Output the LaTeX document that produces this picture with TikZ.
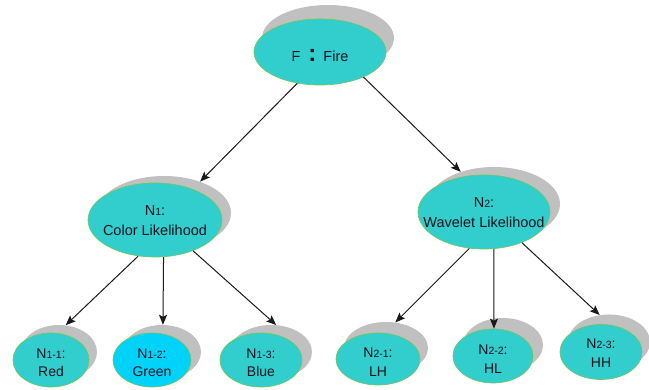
\documentclass[tikz,border=0pt]{standalone}
\usepackage{fontspec}
\setmainfont{Liberation Sans}
\usetikzlibrary{shapes.geometric,arrows.meta}
\definecolor{nodecyan}{RGB}{50,205,205}
\definecolor{nodeblue}{RGB}{0,210,250}
\definecolor{edgegreen}{RGB}{110,200,100}
\definecolor{shadowgray}{RGB}{192,192,192}
\definecolor{txt}{RGB}{20,20,30}
\newcommand{\nsub}[1]{{\fontsize{10.5}{10.5}\selectfont #1}}
\tikzset{
  shadowell/.style={ellipse, fill=shadowgray, inner sep=0pt},
  cyanell/.style={ellipse, fill=nodecyan, draw=edgegreen, line width=0.7pt, inner sep=0pt},
  bigtxt/.style={align=center, text=txt, inner sep=0pt, font=\fontsize{14.5}{20}\selectfont},
  smalltxt/.style={align=center, text=txt, inner sep=0pt, font=\fontsize{14}{18.5}\selectfont},
  conn/.style={draw=black!90, line width=1pt, -{Stealth[length=10pt,width=8pt,inset=2pt]}}
}
\begin{document}
\begin{tikzpicture}[x=1pt,y=-1pt]
\useasboundingbox (0,0) rectangle (649,390);
% shadows
\node[shadowell, minimum width=132pt, minimum height=66pt] (Fs) at (328,38) {};
\node[shadowell, minimum width=134pt, minimum height=74pt] (N1s) at (164,213) {};
\node[shadowell, minimum width=132pt, minimum height=74pt] (N2s) at (494,204) {};
\node[shadowell, minimum width=76pt, minimum height=54pt] (N11s) at (59,352) {};
\node[shadowell, minimum width=78pt, minimum height=54pt] (N12s) at (162,352) {};
\node[shadowell, minimum width=82pt, minimum height=54pt] (N13s) at (271,352) {};
\node[shadowell, minimum width=84pt, minimum height=52pt] (N21s) at (386,348) {};
\node[shadowell, minimum width=80pt, minimum height=54pt] (N22s) at (503,345) {};
\node[shadowell, minimum width=82pt, minimum height=55pt] (N23s) at (609,342) {};
% main ellipses
\node[cyanell, minimum width=132pt, minimum height=66pt,
  label={[bigtxt, yshift=-4pt]center:{F\hspace{8pt}{\fontsize{24}{24}\selectfont\bfseries :}\hspace{7pt}Fire}}] (F) at (320,52) {};
\node[cyanell, minimum width=134pt, minimum height=74pt,
  label={[bigtxt, yshift=-1pt]center:{N\nsub{1}:\\Color Likelihood}}] (N1) at (155,220) {};
\node[cyanell, minimum width=132pt, minimum height=74pt,
  label={[bigtxt, yshift=-1pt]center:{N\nsub{2}:\\Wavelet Likelihood}}] (N2) at (484,212) {};
\node[cyanell, minimum width=76pt, minimum height=54pt,
  label={[smalltxt, yshift=-3pt]center:{N\nsub{1-1}:\\Red}}] (N11) at (51,360) {};
\node[cyanell, fill=nodeblue, minimum width=78pt, minimum height=54pt,
  label={[smalltxt, yshift=-3pt]center:{N\nsub{1-2}:\\Green}}] (N12) at (152,360) {};
\node[cyanell, minimum width=82pt, minimum height=54pt,
  label={[smalltxt, yshift=-3pt]center:{N\nsub{1-3}:\\Blue}}] (N13) at (261,360) {};
\node[cyanell, minimum width=84pt, minimum height=52pt,
  label={[smalltxt, yshift=-3pt]center:{N\nsub{2-1}:\\LH}}] (N21) at (378,359) {};
\node[cyanell, minimum width=80pt, minimum height=54pt,
  label={[smalltxt, yshift=-3pt]center:{N\nsub{2-2}:\\HL}}] (N22) at (493,356) {};
\node[cyanell, minimum width=82pt, minimum height=55pt,
  label={[smalltxt, yshift=-1pt]center:{N\nsub{2-3}:\\HH}}] (N23) at (601,352) {};
% connectors
\draw[conn] (F.234) -- (N1s.41);
\draw[conn] (F.330) -- (N2s.136);
\draw[conn] (N1.245) -- (N11s.76);
\draw[conn] (N1.283) -- (N12s.88);
\draw[conn] (N1.321) -- (N13s.79);
\draw[conn] (N2.248) -- (N21s.70);
\draw[conn] (N2.285) -- (N22.88);
\draw[conn] (N2.321) -- (N23s.109);
\end{tikzpicture}
\end{document}
